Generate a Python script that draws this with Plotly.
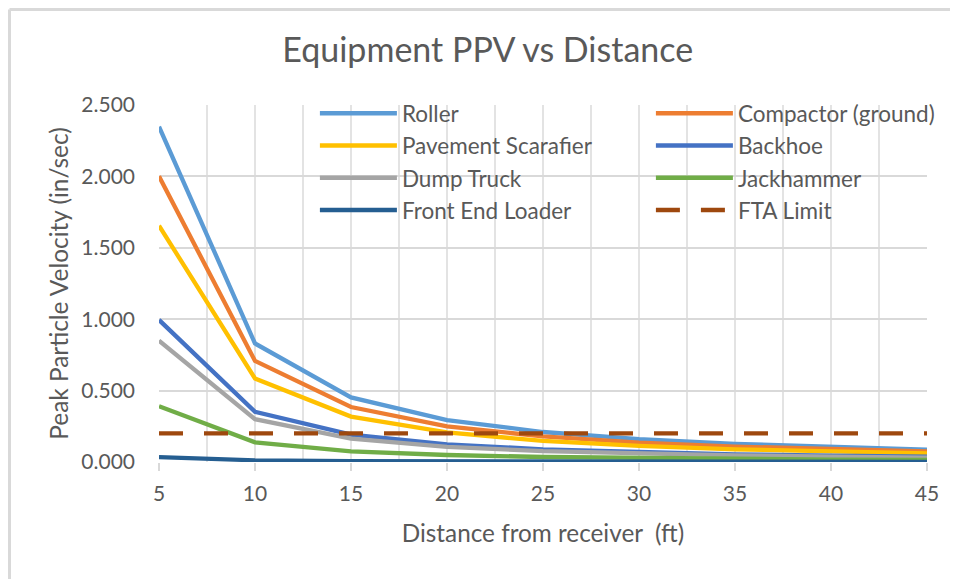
import plotly.graph_objects as go

distance_ft = [5, 10, 15, 20, 25, 30, 35, 40, 45]

roller = [2.348, 0.830, 0.452, 0.293, 0.210, 0.160, 0.127, 0.104, 0.087]
compactor = [2.001, 0.708, 0.385, 0.250, 0.179, 0.136, 0.108, 0.088, 0.074]
pavement_scarafier = [1.655, 0.585, 0.318, 0.207, 0.148, 0.113, 0.089, 0.073, 0.061]
backhoe = [0.995, 0.352, 0.192, 0.124, 0.089, 0.068, 0.054, 0.044, 0.037]
dump_truck = [0.850, 0.300, 0.164, 0.106, 0.076, 0.058, 0.046, 0.038, 0.031]
jackhammer = [0.391, 0.138, 0.075, 0.049, 0.035, 0.027, 0.021, 0.017, 0.014]
front_end_loader = [0.034, 0.012, 0.006, 0.004, 0.003, 0.002, 0.002, 0.001, 0.001]
fta_limit = [0.2, 0.2, 0.2, 0.2, 0.2, 0.2, 0.2, 0.2, 0.2]

y_ticks = [0, 0.5, 1.0, 1.5, 2.0, 2.5]
y_tick_labels = ["0.000", "0.500", "1.000", "1.500", "2.000", "2.500"]
x_ticks = [5, 10, 15, 20, 25, 30, 35, 40, 45]

series = [
    ("Roller", roller, "#5B9BD5", "solid"),
    ("Compactor (ground)", compactor, "#ED7D31", "solid"),
    ("Pavement Scarafier", pavement_scarafier, "#FFC000", "solid"),
    ("Backhoe", backhoe, "#4472C4", "solid"),
    ("Dump Truck", dump_truck, "#A5A5A5", "solid"),
    ("Jackhammer", jackhammer, "#70AD47", "solid"),
    ("Front End Loader", front_end_loader, "#255E91", "solid"),
    ("FTA Limit", fta_limit, "#9E480E", "24px,21px"),
]

fig = go.Figure()
for name, vals, color, dash in series:
    fig.add_trace(go.Scatter(
        x=distance_ft, y=vals, name=name, mode="lines",
        line=dict(color=color, width=4.3, dash=dash),
    ))

font_family = "Lato, Carlito, 'Open Sans', sans-serif"
text_color = "#595959"

W, H = 950, 571
ML, MR, MT, MB = 151, 31, 97, 117

fig.update_layout(
    width=W, height=H,
    margin=dict(l=ML, r=MR, t=MT, b=MB, autoexpand=False),
    paper_bgcolor="white", plot_bgcolor="white",
    font=dict(family=font_family, color=text_color, size=21),
    title=dict(text="Equipment PPV vs Distance", x=0.505, xanchor="center",
               y=0.926, yanchor="middle",
               font=dict(size=34, color=text_color, family=font_family)),
    showlegend=True,
    legend=dict(
        orientation="h", x=1.078, y=1.036, xanchor="right", yanchor="top",
        bgcolor="rgba(0,0,0,0)", borderwidth=0, entrywidth=244, entrywidthmode="pixels",
        itemwidth=77, font=dict(size=22.5, color=text_color, family=font_family),
        traceorder="normal",
    ),
    xaxis=dict(
        range=[5, 45], tickvals=x_ticks, ticks="outside", ticklen=8,
        tickcolor="#D9D9D9", tickwidth=2,
        showgrid=True, gridcolor="#E3E3E3", gridwidth=2,
        minor=dict(dtick=2.5, showgrid=True, gridcolor="#E3E3E3", gridwidth=2),
        showline=False, zeroline=False,
        tickfont=dict(size=21, color=text_color), ticklabelstandoff=5,
        title=dict(text="Distance from receiver  (ft)", font=dict(size=24.3, color=text_color), standoff=20),
    ),
    yaxis=dict(
        range=[0, 2.5], tickvals=y_ticks, ticktext=y_tick_labels,
        showgrid=True, gridcolor="#D9D9D9", gridwidth=2,
        zeroline=False, showline=False, ticks="",
        tickfont=dict(size=21, color=text_color), ticklabelstandoff=23,
        title=dict(text="Peak Particle Velocity (in/sec)", font=dict(size=24.4, color=text_color), standoff=5),
    ),
    shapes=[
        # white legend backdrop covering the gridlines
        dict(type="rect", xref="paper", yref="paper", layer="below",
             x0=(281 - ML) / 768, x1=1.02, y0=(454 - 219) / 357, y1=1.03,
             fillcolor="white", line=dict(width=0)),
        # chart-area border (left and top edges)
        dict(type="line", xref="paper", yref="paper",
             x0=-(ML - 1.5) / 768, x1=-(ML - 1.5) / 768, y0=-0.35, y1=(454 - 1.5) / 357,
             line=dict(color="#D9D9D9", width=3)),
        dict(type="line", xref="paper", yref="paper",
             x0=-(ML - 1.5) / 768, x1=1.1, y0=(454 - 1.5) / 357, y1=(454 - 1.5) / 357,
             line=dict(color="#D9D9D9", width=3)),
    ],
)

fig.write_html("out.html")
